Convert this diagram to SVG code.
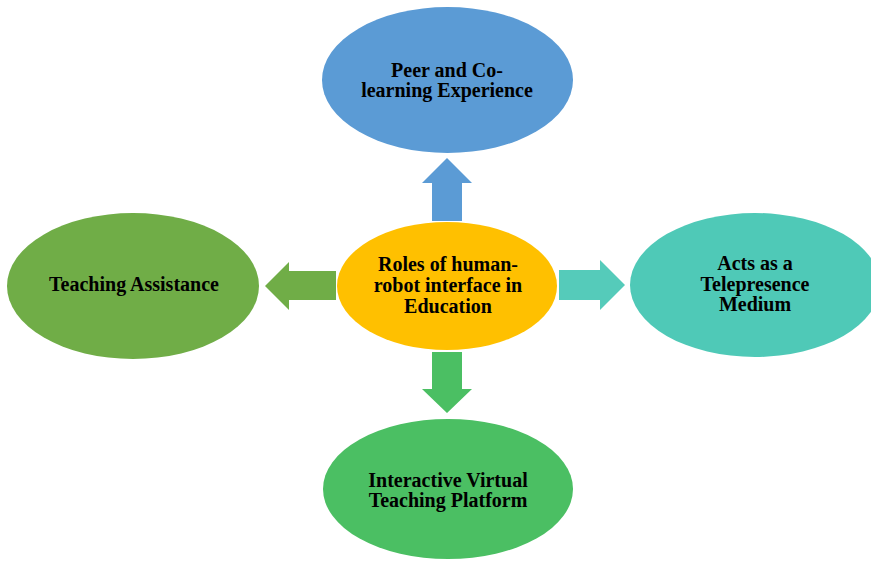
<svg xmlns="http://www.w3.org/2000/svg" width="871" height="563" viewBox="0 0 871 563">
<style>
.t{font-family:"Liberation Serif","Times New Roman",serif;font-weight:bold;font-size:20px;fill:#000;text-anchor:middle}
</style>
<rect width="871" height="563" fill="#fff"/>
<g id="connectors">
<polygon fill="#5B9BD5" points="432,221 432,183 422,183 447,158 472,183 462,183 462,221"/>
<polygon fill="#70AD47" points="336,271 289,271 289,262 265,286 289,310 289,300 336,300"/>
<polygon fill="#55CBBA" points="559,270 600,270 600,260 625,285 600,310 600,300 559,300"/>
<polygon fill="#4BBF63" points="432,352 432,389 422,389 447,413 472,389 462,389 462,352"/>
</g>
<g id="top">
<ellipse cx="447.5" cy="80" rx="125.5" ry="73" fill="#5B9BD5"/>
<text class="t" x="447" y="77">Peer and Co-</text>
<text class="t" x="447" y="97">learning Experience</text>
</g>
<g id="left">
<ellipse cx="133" cy="286" rx="126" ry="73" fill="#70AD47"/>
<text class="t" x="134" y="291">Teaching Assistance</text>
</g>
<g id="right">
<ellipse cx="755" cy="285" rx="125" ry="72" fill="#4FC9B7"/>
<text class="t" x="755" y="270">Acts as a</text>
<text class="t" x="755" y="291">Telepresence</text>
<text class="t" x="755" y="311">Medium</text>
</g>
<g id="bottom">
<ellipse cx="448" cy="489" rx="125" ry="70" fill="#4BBF63"/>
<text class="t" x="448" y="487">Interactive Virtual</text>
<text class="t" x="448" y="507">Teaching Platform</text>
</g>
<g id="center">
<ellipse cx="447" cy="286" rx="110" ry="64" fill="#FFC000"/>
<text class="t" x="448" y="271">Roles of human-</text>
<text class="t" x="448" y="292">robot interface in</text>
<text class="t" x="448" y="313">Education</text>
</g>
</svg>
